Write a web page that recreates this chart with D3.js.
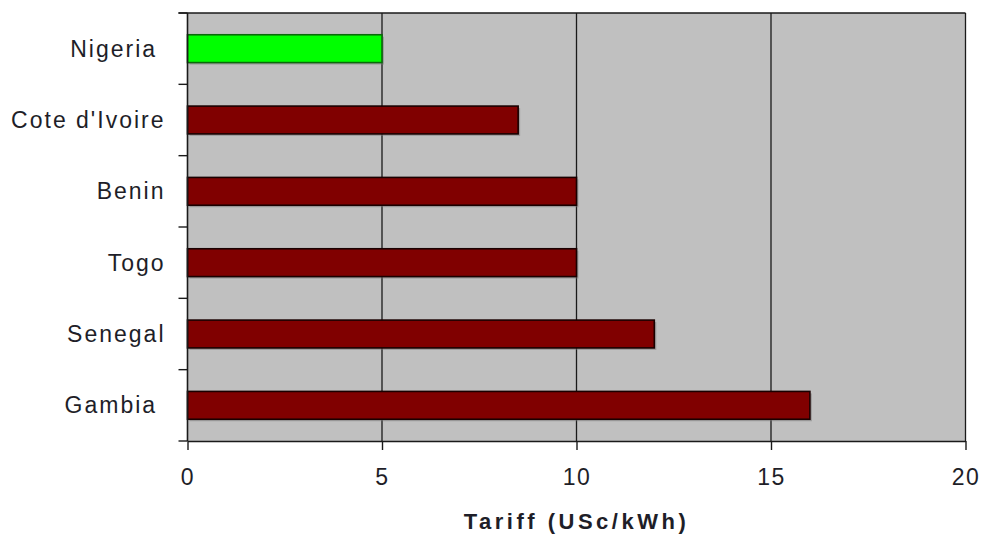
<!DOCTYPE html>
<html lang="en">
<head>
    <meta charset="UTF-8">
    <title>tariff chart</title>
    <script src="https://d3js.org/d3.v7.min.js"></script>
    <style>
        body { margin: 0; background: #fff; }
        text { font-family: "Liberation Sans", Arial, sans-serif; fill: #1e1e28; }
    </style>
</head>
<body>
    <svg></svg>
    <script>
        const categories = ["Nigeria ", "Cote d'Ivoire", "Benin", "Togo", "Senegal", "Gambia "];
        const tariffs = [5, 8.5, 10, 10, 12, 16];
        const barColors = ["#00ff00", "#800000", "#800000", "#800000", "#800000", "#800000"];
        const xTicks = [0, 5, 10, 15, 20];
        const xTitle = "Tariff (USc/kWh)";

        const svgWidth = 981;
        const svgHeight = 535;
        const plotLeft = 187.5, plotRight = 965.5, plotTop = 13, plotBottom = 441;

        const svg = d3.select('svg')
            .attr("width", svgWidth)
            .attr("height", svgHeight);

        const x = d3.scaleLinear().domain([0, 20]).range([plotLeft, plotRight]);
        const y = d3.scaleBand()
            .domain(categories)
            .range([plotTop, plotBottom])
            .paddingInner(0.61)
            .paddingOuter(0.305);

        // plot background
        svg.append("rect")
            .attr("x", plotLeft).attr("y", plotTop)
            .attr("width", plotRight - plotLeft).attr("height", plotBottom - plotTop)
            .attr("fill", "#c0c0c0");

        // vertical grid lines
        svg.selectAll(".grid")
            .data(xTicks.slice(1, -1))
            .enter().append("line")
            .attr("x1", d => x(d)).attr("x2", d => x(d))
            .attr("y1", plotTop).attr("y2", plotBottom)
            .attr("stroke", "#1a1a1a").attr("stroke-width", 1.3);

        const rows = categories.map((c, i) => ({cat: c, value: tariffs[i], color: barColors[i]}));

        // soft shadow behind bars
        svg.selectAll(".shadow")
            .data(rows)
            .enter().append("rect")
            .attr("x", x(0) + 2)
            .attr("y", d => y(d.cat) + 2)
            .attr("width", d => x(d.value) - x(0))
            .attr("height", y.bandwidth())
            .attr("fill", "#7a7a7a")
            .attr("opacity", 0.5);

        svg.selectAll(".bar")
            .data(rows)
            .enter().append("rect")
            .attr("x", x(0))
            .attr("y", d => y(d.cat))
            .attr("width", d => x(d.value) - x(0))
            .attr("height", y.bandwidth())
            .attr("fill", d => d.color)
            .attr("stroke", d => d.color === "#00ff00" ? "#0a6a0a" : "#1a0000")
            .attr("stroke-width", 1.6);

        // frame: top and right edges
        const frame = "#1a1a1a";
        svg.append("line").attr("x1", plotLeft - 9).attr("x2", plotRight).attr("y1", plotTop).attr("y2", plotTop)
            .attr("stroke", frame).attr("stroke-width", 1.6);
        svg.append("line").attr("x1", plotRight).attr("x2", plotRight).attr("y1", plotTop).attr("y2", plotBottom)
            .attr("stroke", frame).attr("stroke-width", 1.3);

        // x axis
        const xAxis = svg.append("g")
            .attr("transform", `translate(0,${plotBottom})`)
            .call(d3.axisBottom(x).tickValues(xTicks).tickSize(9).tickPadding(19).tickSizeOuter(0));
        xAxis.select(".domain").attr("stroke", frame).attr("stroke-width", 1.6);
        xAxis.selectAll(".tick line").attr("stroke", frame).attr("stroke-width", 1.4);
        xAxis.selectAll(".tick text")
            .attr("font-size", 23).attr("letter-spacing", 1.5).attr("fill", "#1e1e28")
            .style("font-family", "'Liberation Sans', Arial, sans-serif");

        // y axis: ticks sit on the band boundaries
        const yAxis = svg.append("g").attr("transform", `translate(${plotLeft},0)`);
        yAxis.append("line").attr("y1", plotTop).attr("y2", plotBottom)
            .attr("stroke", frame).attr("stroke-width", 1.6);
        const bounds = d3.range(categories.length + 1).map(i => plotTop + i * y.step());
        yAxis.selectAll(".ytick")
            .data(bounds)
            .enter().append("line")
            .attr("x1", -9).attr("x2", 0)
            .attr("y1", d => d).attr("y2", d => d)
            .attr("stroke", frame).attr("stroke-width", 1.4);

        yAxis.selectAll(".ylabel")
            .data(categories)
            .enter().append("text")
            .attr("x", -22)
            .attr("y", d => y(d) + y.bandwidth() / 2)
            .attr("dy", "0.35em")
            .attr("text-anchor", "end")
            .attr("font-size", 23)
            .attr("letter-spacing", 2)
            .style("white-space", "pre")
            .text(d => d);

        // axis title
        svg.append("text")
            .attr("x", x(10))
            .attr("y", 529)
            .attr("text-anchor", "middle")
            .attr("font-size", 22)
            .attr("font-weight", "bold")
            .attr("letter-spacing", 3.5)
            .text(xTitle);
    </script>
</body>
</html>
